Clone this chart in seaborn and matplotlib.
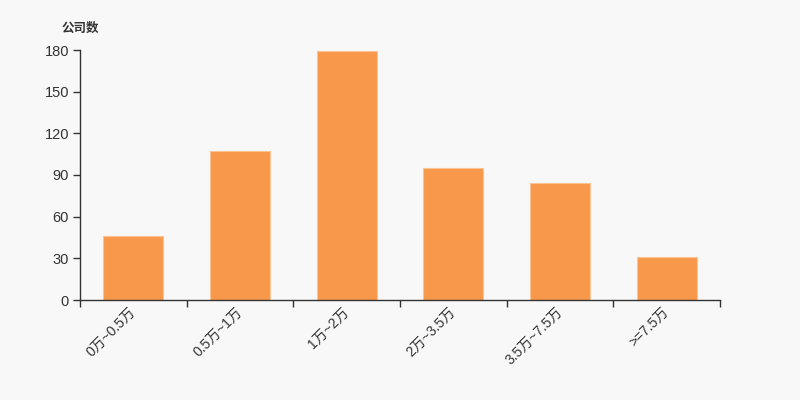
import matplotlib
matplotlib.use("Agg")
import matplotlib.pyplot as plt
import seaborn as sns
import pandas as pd

categories = ["0万~0.5万", "0.5万~1万", "1万~2万", "2万~3.5万", "3.5万~7.5万", ">=7.5万"]
counts = [46, 107, 179, 95, 84, 31]
y_ticks = [0, 30, 60, 90, 120, 150, 180]
y_label = "公司数"

sns.set_theme(style="white")
plt.rcParams['font.family'] = ['Liberation Sans', 'Noto Sans CJK SC', 'DejaVu Sans']

bg = "#f8f8f8"
txt = "#333333"
bar_color = "#f7984a"

df = pd.DataFrame({"cat": categories, "n": counts})

fig = plt.figure(figsize=(8, 4), dpi=100, facecolor=bg)
ax = fig.add_axes([0.1, 0.25, 0.8, 0.625])
ax.set_facecolor(bg)

sns.barplot(data=df, x="cat", y="n", color=bar_color, saturation=1, width=0.5625,
            edgecolor="#fbc494", linewidth=0.8, ax=ax)

ax.set_xlim(-0.5, len(categories) - 0.5)
ax.set_ylim(0, 180)
ax.set_yticks(y_ticks)
ax.set_yticklabels([str(v) for v in y_ticks], color=txt, fontsize=10.5)
ax.set_xlabel("")
ax.set_ylabel("")

ax.set_xticks(range(len(categories)))
ax.set_xticklabels(categories, rotation=45, ha="right", va="center",
                   rotation_mode="anchor", color=txt, fontsize=10)
ax.tick_params(axis="x", which="major", bottom=True, length=0, pad=7)
ax.set_xticks([i - 0.5 for i in range(len(categories) + 1)], minor=True)
ax.tick_params(axis="x", which="minor", bottom=True, length=5, width=1, color=txt,
               direction="out")
ax.tick_params(axis="y", which="major", left=True, length=5, width=1, color=txt,
               direction="out", pad=3)

for s in ["top", "right"]:
    ax.spines[s].set_visible(False)
for s in ["left", "bottom"]:
    ax.spines[s].set_color(txt)
    ax.spines[s].set_linewidth(1)

fig.text(62 / 800, 1 - 29 / 400, y_label, fontsize=9, fontweight="bold",
         color=txt, va="center", ha="left")

fig.savefig("out.png", dpi=100, facecolor=bg)
